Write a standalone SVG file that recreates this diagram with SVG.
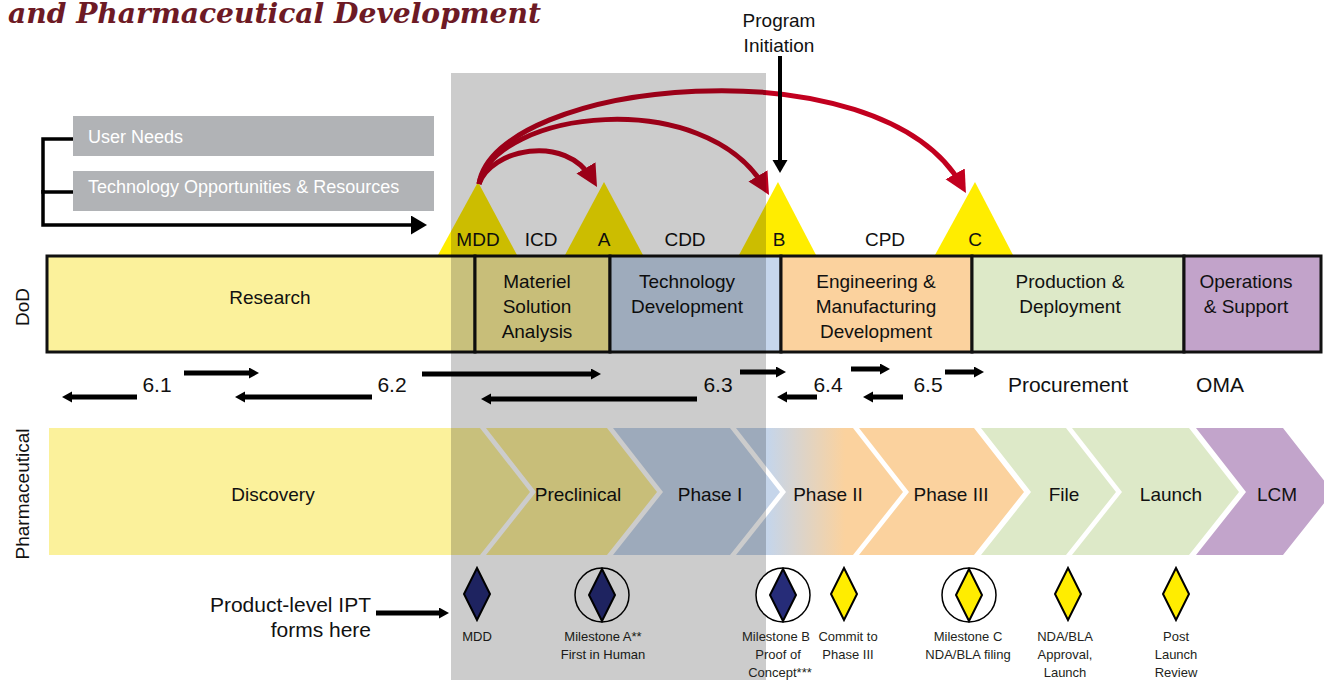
<svg xmlns="http://www.w3.org/2000/svg" width="1324" height="680" viewBox="0 0 1324 680">
<defs>
<style>
text{font-family:"Liberation Sans",Arial,sans-serif;fill:#111}
.t19{font-size:19px;text-anchor:middle}
.t21{font-size:21px;text-anchor:middle}
.t13{font-size:13px;text-anchor:middle;fill:#231f20}
.box{stroke:#111;stroke-width:3}
.tri{fill:#ffed00}
.red{fill:none;stroke:#c2001f;stroke-width:5;marker-end:url(#rh)}
.blk{fill:none;stroke:#000;stroke-width:5;marker-end:url(#bh)}
.dia{stroke:#000;stroke-width:2}
.navy{fill:#262c78}
.yel{fill:#ffed00}
.ring{fill:none;stroke:#000;stroke-width:1.5}
</style>
<marker id="rh" markerUnits="userSpaceOnUse" markerWidth="24" markerHeight="24" refX="14" refY="11" orient="auto"><path d="M0,0 L22,11 L0,22 Z" fill="#c2001f"/></marker>
<marker id="bh" markerUnits="userSpaceOnUse" markerWidth="12" markerHeight="12" refX="3" refY="5.5" orient="auto"><path d="M0,0 L10,5.5 L0,11 Z" fill="#000"/></marker>
<marker id="bh2" markerUnits="userSpaceOnUse" markerWidth="18" markerHeight="20" refX="4" refY="9.5" orient="auto"><path d="M0,0 L16,9.5 L0,19 Z" fill="#000"/></marker>
<marker id="bh3" markerUnits="userSpaceOnUse" markerWidth="16" markerHeight="16" refX="4" refY="7.5" orient="auto"><path d="M0,0 L13,7.5 L0,15 Z" fill="#000"/></marker>
<linearGradient id="g2" gradientUnits="userSpaceOnUse" x1="768" y1="0" x2="845" y2="0"><stop offset="0" stop-color="#c5d5ea"/><stop offset="1" stop-color="#fbd29e"/></linearGradient>
</defs>
<rect width="1324" height="680" fill="#fff"/>

<text x="8" y="22.5" font-size="28" font-weight="bold" font-style="italic" style="font-family:'DejaVu Serif',serif;fill:#6d1a25" textLength="533" lengthAdjust="spacingAndGlyphs">and Pharmaceutical Development</text>

<g id="inputs">
<rect x="73" y="116" width="361" height="40" fill="#b1b3b6"/>
<text x="88" y="143" style="font-size:18px;fill:#fff">User Needs</text>
<rect x="73" y="171" width="361" height="40" fill="#b1b3b6"/>
<text x="88" y="193" style="font-size:18px;fill:#fff">Technology Opportunities &amp; Resources</text>
</g>

<g id="milestone-triangles">
<path class="tri" d="M438,255 L478,182 L517,255 Z"/>
<path class="tri" d="M565,255 L604,182 L643,255 Z"/>
<path class="tri" d="M739,255 L778,182 L816,255 Z"/>
<path class="tri" d="M935,255 L975,182 L1013,255 Z"/>
<text class="t19" x="478" y="246">MDD</text>
<text class="t19" x="541" y="246">ICD</text>
<text class="t19" x="604" y="246">A</text>
<text class="t19" x="685" y="246">CDD</text>
<text class="t19" x="779" y="246">B</text>
<text class="t19" x="885" y="246">CPD</text>
<text class="t19" x="975" y="246">C</text>
</g>

<g id="dod">
<rect class="box" x="47" y="256" width="428" height="96" fill="#fbf19b"/>
<rect class="box" x="475" y="256" width="135" height="96" fill="#fbee98"/>
<rect class="box" x="610" y="256" width="171" height="96" fill="#c6d6ec"/>
<rect class="box" x="781" y="256" width="191" height="96" fill="#fbd29e"/>
<rect class="box" x="972" y="256" width="212" height="96" fill="#dde9c8"/>
<rect class="box" x="1184" y="256" width="137" height="96" fill="#c2a3ca"/>
<text class="t19" x="270" y="304">Research</text>
<text class="t19" x="537" y="288">Materiel</text>
<text class="t19" x="537" y="313">Solution</text>
<text class="t19" x="537" y="338">Analysis</text>
<text class="t19" x="687" y="288">Technology</text>
<text class="t19" x="687" y="313">Development</text>
<text class="t19" x="876" y="288">Engineering &amp;</text>
<text class="t19" x="876" y="313">Manufacturing</text>
<text class="t19" x="876" y="338">Development</text>
<text class="t19" x="1070" y="288">Production &amp;</text>
<text class="t19" x="1070" y="313">Deployment</text>
<text class="t19" x="1246" y="288">Operations</text>
<text class="t19" x="1246" y="313">&amp; Support</text>
<text class="t19" transform="translate(29,307) rotate(-90)">DoD</text>
</g>

<g id="budget">
<text class="t21" x="157" y="392">6.1</text>
<text class="t21" x="392" y="392">6.2</text>
<text class="t21" x="718" y="392">6.3</text>
<text class="t21" x="828" y="392">6.4</text>
<text class="t21" x="928" y="392">6.5</text>
<text class="t21" x="1068" y="392">Procurement</text>
<text class="t21" x="1220" y="392">OMA</text>
</g>

<g id="pharma">
<path d="M49,428 L480,428 L530,492 L480,555 L49,555 Z" fill="#fbf19b"/>
<path d="M486,428 L607,428 L657,492 L607,555 L486,555 L536,492 Z" fill="#fbee98"/>
<path d="M613,428 L730,428 L780,492 L730,555 L613,555 L663,492 Z" fill="#c5d5ea"/>
<path d="M736,428 L853,428 L903,492 L853,555 L736,555 L786,492 Z" fill="url(#g2)"/>
<path d="M859,428 L974,428 L1024,492 L974,555 L859,555 L909,492 Z" fill="#fbd29e"/>
<path d="M981,428 L1066,428 L1116,492 L1066,555 L981,555 L1031,492 Z" fill="#dde9c8"/>
<path d="M1072,428 L1189,428 L1239,492 L1189,555 L1072,555 L1122,492 Z" fill="#dde9c8"/>
<path d="M1196,428 L1283,428 L1333,492 L1283,555 L1196,555 L1246,492 Z" fill="#c2a4cb"/>
<text class="t19" x="273" y="501">Discovery</text>
<text class="t19" x="578" y="501">Preclinical</text>
<text class="t19" x="710" y="501">Phase I</text>
<text class="t19" x="828" y="501">Phase II</text>
<text class="t19" x="951" y="501">Phase III</text>
<text class="t19" x="1064" y="501">File</text>
<text class="t19" x="1171" y="501">Launch</text>
<text class="t19" x="1277" y="501">LCM</text>
<text class="t19" transform="translate(29,494) rotate(-90)">Pharmaceutical</text>
</g>

<g id="ipt">
<text x="371" y="612" style="font-size:21px;text-anchor:end">Product-level IPT</text>
<text x="371" y="637" style="font-size:21px;text-anchor:end">forms here</text>
</g>

<g id="pharma-milestones">
<path class="dia navy" d="M477,568 L490,594 L477,620 L464,594 Z"/>
<text class="t13" x="477" y="641">MDD</text>
<circle class="ring" cx="602" cy="595" r="27"/>
<path class="dia navy" d="M602,569 L615,595 L602,621 L589,595 Z"/>
<text class="t13" x="603" y="641">Milestone A**</text>
<text class="t13" x="603" y="659">First in Human</text>
<path class="dia yel" d="M844,568 L857,594 L844,620 L831,594 Z"/>
<text class="t13" x="848" y="641">Commit to</text>
<text class="t13" x="848" y="659">Phase III</text>
<circle class="ring" cx="969" cy="595" r="27"/>
<path class="dia yel" d="M969,569 L982,595 L969,621 L956,595 Z"/>
<text class="t13" x="968" y="641">Milestone C</text>
<text class="t13" x="968" y="659">NDA/BLA filing</text>
<path class="dia yel" d="M1068,568 L1081,594 L1068,620 L1055,594 Z"/>
<text class="t13" x="1065" y="641">NDA/BLA</text>
<text class="t13" x="1065" y="659">Approval,</text>
<text class="t13" x="1065" y="677">Launch</text>
<path class="dia yel" d="M1176,568 L1189,594 L1176,620 L1163,594 Z"/>
<text class="t13" x="1176" y="641">Post</text>
<text class="t13" x="1176" y="659">Launch</text>
<text class="t13" x="1176" y="677">Review</text>
</g>

<g id="connectors">
<path class="red" d="M479,184 C490,150 565,132 593,180"/>
<path class="red" d="M479,184 C495,110 705,85 765,188"/>
<path class="red" d="M479,184 C495,80 880,40 962,186"/>
<path d="M73,139 L43,139 L43,192 L73,192" fill="none" stroke="#000" stroke-width="3.5"/>
<path d="M43,190 L43,225 L415,225" fill="none" stroke="#000" stroke-width="3.5" marker-end="url(#bh2)"/>
<path class="blk" d="M184,373 L252,373"/>
<path class="blk" d="M422,374 L594,374"/>
<path class="blk" d="M740,372 L779,372"/>
<path class="blk" d="M851,369 L883,369"/>
<path class="blk" d="M945,372 L977,372"/>
<path class="blk" d="M137,397 L69,397"/>
<path class="blk" d="M372,397 L242,397"/>
<path class="blk" d="M697,399 L488,399"/>
<path class="blk" d="M817,397 L784,397"/>
<path class="blk" d="M903,397 L870,397"/>
<path class="blk" d="M376,613 L442,613"/>
</g>

<rect id="shade" x="451" y="73" width="315" height="607" fill="#000" fill-opacity="0.2"/>

<g id="program-initiation">
<text class="t19" x="779" y="27">Program</text>
<text class="t19" x="779" y="52">Initiation</text>
<path d="M780,56 L780,164" fill="none" stroke="#000" stroke-width="4" marker-end="url(#bh3)"/>
</g>

<g id="milestone-b">
<circle cx="783" cy="595" r="27" fill="#fff" stroke="#000" stroke-width="1.5"/>
<path class="dia navy" d="M783,569 L796,595 L783,621 L770,595 Z"/>
<text class="t13" x="776" y="641">Milestone B</text>
<text class="t13" x="778" y="659">Proof of</text>
<text class="t13" x="780" y="677">Concept***</text>
</g>
</svg>
